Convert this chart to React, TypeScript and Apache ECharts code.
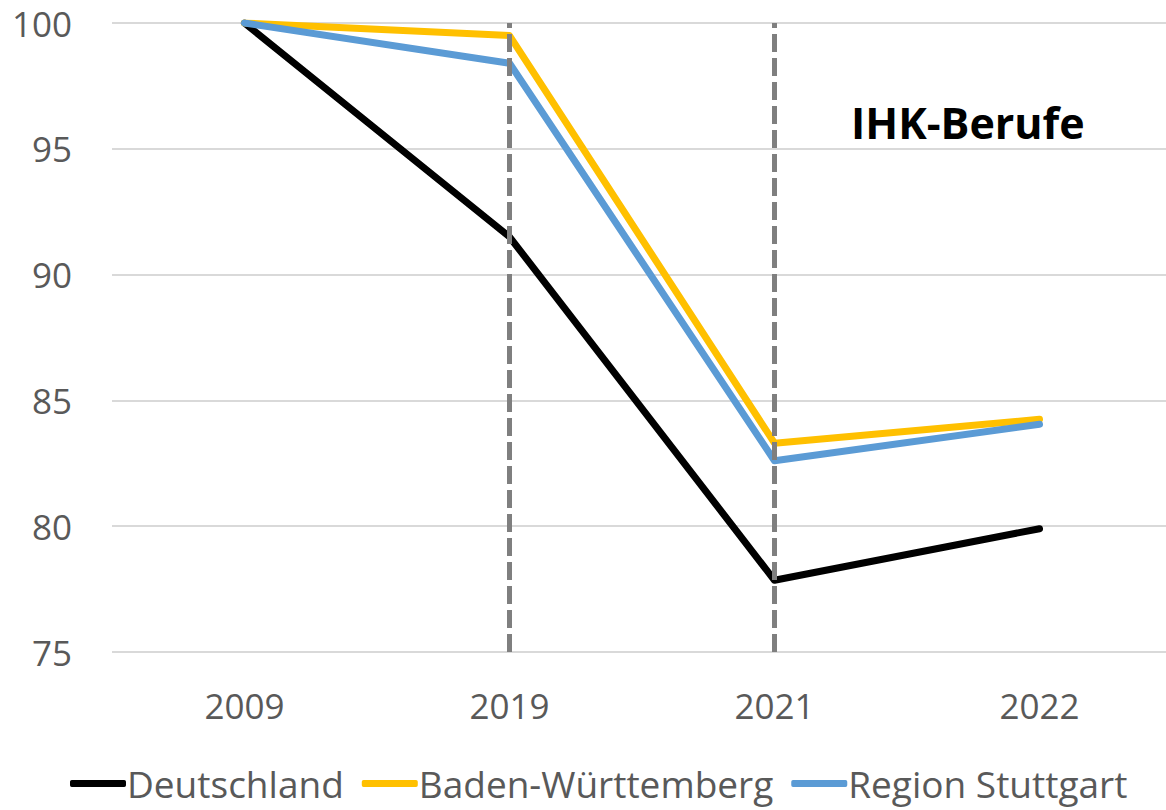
import React, { useEffect, useRef } from "react";
import * as echarts from "echarts";

const years = ["2009", "2019", "2021", "2022"];
const deutschland = [100, 91.5, 77.85, 79.9];
const badenWuerttemberg = [100, 99.5, 83.3, 84.25];
const regionStuttgart = [100, 98.4, 82.6, 84.05];
const markedYears = ["2019", "2021"];
const titleText = "IHK-Berufe";

const FONT = "'Open Sans', 'Liberation Sans', sans-serif";

export default function App() {
  const ref = useRef<HTMLDivElement>(null);
  useEffect(() => {
    if (!ref.current) return;
    const chart = echarts.init(ref.current, null, { renderer: "svg" });
    const lineSeries = (name: string, data: number[], color: string) => ({
      name,
      type: "line",
      data,
      symbol: "none",
      lineStyle: { color, width: 7, cap: "round", join: "round" },
      itemStyle: { color },
    });
    chart.setOption({
      animation: false,
      backgroundColor: "#ffffff",
      textStyle: { fontFamily: FONT },
      title: {
        text: titleText,
        left: 846,
        top: 96,
        textStyle: { fontSize: 43, fontWeight: "bold", color: "#000000", fontFamily: FONT },
      },
      grid: { left: 112, right: 0, top: 23, bottom: 158 },
      legend: {
        left: 70,
        top: 765,
        padding: 0,
        itemWidth: 56,
        itemHeight: 7,
        itemGap: 18,
        icon: "roundRect",
        textStyle: {
          fontSize: 37,
          lineHeight: 37,
          color: "#595959",
          fontFamily: FONT,
          padding: [0, 0, 0, -4],
        },
        data: ["Deutschland", "Baden-Württemberg", "Region Stuttgart"],
      },
      xAxis: {
        type: "category",
        data: years,
        boundaryGap: true,
        axisLine: { show: false },
        axisTick: { show: false },
        axisLabel: { fontSize: 35, color: "#595959", margin: 36, fontFamily: FONT },
      },
      yAxis: {
        type: "value",
        min: 75,
        max: 100,
        interval: 5,
        axisLine: { show: false },
        axisTick: { show: false },
        axisLabel: { fontSize: 35, color: "#595959", margin: 40, fontFamily: FONT },
        splitLine: { lineStyle: { color: "#d9d9d9", width: 2 } },
      },
      series: [
        lineSeries("Deutschland", deutschland, "#000000"),
        lineSeries("Baden-Württemberg", badenWuerttemberg, "#ffc000"),
        {
          ...lineSeries("Region Stuttgart", regionStuttgart, "#5b9bd5"),
          markLine: {
            silent: true,
            symbol: "none",
            label: { show: false },
            lineStyle: { color: "#7f7f7f", width: 5, type: [18, 6] },
            data: markedYears.map((y) => ({ xAxis: y })),
            z: 10,
          },
        },
      ],
    });
    return () => chart.dispose();
  }, []);
  return (
    <div
      ref={ref}
      style={{ position: "fixed", left: 0, top: 0, width: 1172, height: 810 }}
    />
  );
}
